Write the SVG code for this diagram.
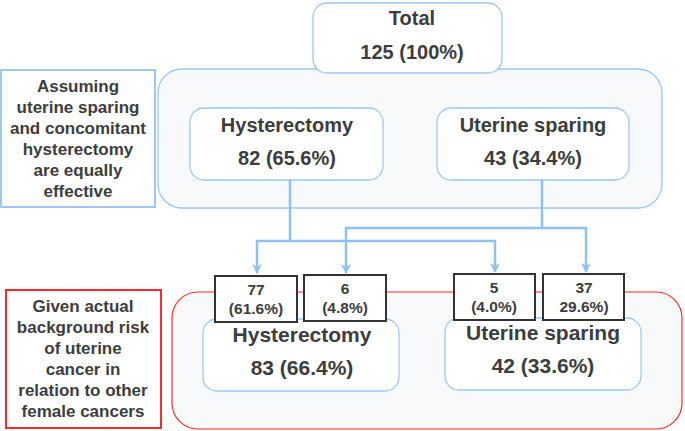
<svg xmlns="http://www.w3.org/2000/svg" width="685" height="431" viewBox="0 0 685 431">
<defs>
<style>
text{font-family:"Liberation Sans",Arial,sans-serif;font-weight:bold;fill:#3d3d3d;text-anchor:middle}
.blue{fill:#fff;stroke:#9ec8f2;stroke-width:1.3}
.cont{fill:#f8f9fa;stroke:#9ec8f2;stroke-width:1.3}
.small{fill:#fff;stroke:#333;stroke-width:2}
.conn{fill:none;stroke:#8fc1f3;stroke-width:2.5}
.big{font-size:20px}
.mid{font-size:21px}
.side{font-size:17px}
.sm{font-size:15.5px}
</style>
<marker id="arr" viewBox="0 0 10 10" refX="9" refY="5" markerWidth="4" markerHeight="4" orient="auto" markerUnits="strokeWidth">
<path d="M0,0 L10,5 L0,10 L3,5 z" fill="#8fc1f3"/>
</marker>
</defs>

<g id="top-container"><rect class="cont" x="158" y="69" width="504" height="139" rx="24"/></g>
<g id="bottom-container"><rect x="172" y="292" width="510" height="137" rx="26" fill="#f8f9fa" stroke="#ff2a2a" stroke-width="1.2"/></g>

<g id="total">
<rect class="blue" x="313" y="3" width="189" height="70" rx="14"/>
<text class="big" x="412" y="25">Total</text>
<text class="big" x="412" y="59">125 (100%)</text>
</g>

<g id="assume">
<rect x="1" y="70" width="154" height="137" fill="#fff" stroke="#9ec8f2" stroke-width="2"/>
<text class="side" x="78" y="92">Assuming</text>
<text class="side" x="78" y="113">uterine sparing</text>
<text class="side" x="78" y="134">and concomitant</text>
<text class="side" x="78" y="155">hysterectomy</text>
<text class="side" x="78" y="176">are equally</text>
<text class="side" x="78" y="197">effective</text>
</g>

<g id="hyst-top">
<rect class="blue" x="190" y="108" width="193" height="72" rx="14"/>
<text class="big" x="287" y="132">Hysterectomy</text>
<text class="big" x="287" y="165">82 (65.6%)</text>
</g>

<g id="spar-top">
<rect class="blue" x="437" y="108" width="192" height="72" rx="14"/>
<text class="big" x="533" y="132">Uterine sparing</text>
<text class="big" x="533" y="165">43 (34.4%)</text>
</g>

<g id="given">
<rect x="6" y="290" width="155" height="138" fill="#fff" stroke="#ff2a2a" stroke-width="2"/>
<text class="side" x="83" y="312">Given actual</text>
<text class="side" x="83" y="333">background risk</text>
<text class="side" x="83" y="354">of uterine</text>
<text class="side" x="83" y="375">cancer in</text>
<text class="side" x="83" y="396">relation to other</text>
<text class="side" x="83" y="417">female cancers</text>
</g>

<g id="hyst-bottom">
<rect class="blue" x="203" y="319" width="196" height="72" rx="14"/>
<text class="mid" x="302" y="342">Hysterectomy</text>
<text class="mid" x="302" y="375">83 (66.4%)</text>
</g>

<g id="spar-bottom">
<rect class="blue" x="445" y="318" width="196" height="72" rx="14"/>
<text class="mid" x="543" y="340">Uterine sparing</text>
<text class="mid" x="543" y="373">42 (33.6%)</text>
</g>

<g id="connectors">
<path class="conn" d="M290,180 V241 H257 V273" marker-end="url(#arr)"/>
<path class="conn" d="M290,241 H495 V272" marker-end="url(#arr)"/>
<path class="conn" d="M542,180 V228 H346 V273" marker-end="url(#arr)"/>
<path class="conn" d="M542,228 H586 V272" marker-end="url(#arr)"/>
</g>

<g id="b77">
<rect class="small" x="215" y="276" width="82" height="46"/>
<text class="sm" x="256" y="295">77</text>
<text class="sm" x="256" y="314">(61.6%)</text>
</g>
<g id="b6">
<rect class="small" x="304" y="275" width="82" height="46"/>
<text class="sm" x="345" y="294">6</text>
<text class="sm" x="345" y="313">(4.8%)</text>
</g>
<g id="b5">
<rect class="small" x="454" y="274" width="81" height="46"/>
<text class="sm" x="494" y="293">5</text>
<text class="sm" x="494" y="312">(4.0%)</text>
</g>
<g id="b37">
<rect class="small" x="543" y="274" width="81" height="46"/>
<text class="sm" x="584" y="293">37</text>
<text class="sm" x="584" y="312">29.6%)</text>
</g>
</svg>
